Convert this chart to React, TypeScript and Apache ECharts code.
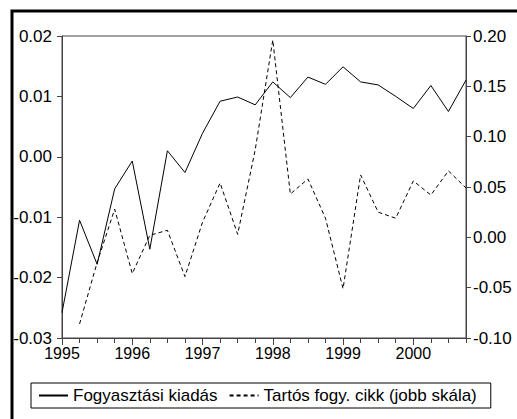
import React, { useEffect, useRef } from "react";
import * as echarts from "echarts";

const quarters: string[] = [
  "1995Q1", "1995Q2", "1995Q3", "1995Q4",
  "1996Q1", "1996Q2", "1996Q3", "1996Q4",
  "1997Q1", "1997Q2", "1997Q3", "1997Q4",
  "1998Q1", "1998Q2", "1998Q3", "1998Q4",
  "1999Q1", "1999Q2", "1999Q3", "1999Q4",
  "2000Q1", "2000Q2", "2000Q3", "2000Q4",
];

const fogyasztasiKiadas: number[] = [
  -0.0258, -0.0105, -0.0178, -0.0053,
  -0.0007, -0.0153, 0.0010, -0.0026,
  0.0039, 0.0092, 0.0099, 0.0086,
  0.0124, 0.0098, 0.0132, 0.0120,
  0.0149, 0.0124, 0.0119, 0.0100,
  0.0080, 0.0118, 0.0075, 0.0127,
];

const tartosCikk: (number | null)[] = [
  null, -0.086, -0.025, 0.028,
  -0.036, 0.002, 0.007, -0.039,
  0.015, 0.054, 0.003, 0.087,
  0.196, 0.043, 0.058, 0.019,
  -0.051, 0.062, 0.025, 0.019,
  0.056, 0.042, 0.066, 0.049,
];

const seriesNames = ["Fogyasztási kiadás", "Tartós fogy. cikk (jobb skála)"];
const leftAxis = { min: -0.03, max: 0.02, interval: 0.01 };
const rightAxis = { min: -0.1, max: 0.2, interval: 0.05 };

const FONT = "'Liberation Sans', Arial, sans-serif";
const AXIS_COLOR = "#444";

export default function App() {
  const ref = useRef<HTMLDivElement>(null);

  useEffect(() => {
    if (!ref.current) return;
    const chart = echarts.init(ref.current, undefined, { renderer: "svg" });
    chart.setOption({
      animation: false,
      backgroundColor: "#fff",
      graphic: [
        {
          type: "rect",
          shape: { x: 12, y: 11, width: 620, height: 520 },
          style: { fill: "none", stroke: "#000", lineWidth: 3 },
          silent: true,
        },
      ],
      grid: {
        left: 62,
        top: 36,
        width: 404,
        height: 302,
        show: true,
        borderColor: AXIS_COLOR,
        borderWidth: 1,
        backgroundColor: "transparent",
      },
      legend: {
        left: 31,
        top: 383,
        orient: "horizontal",
        padding: [4, 14, 4, 7],
        borderColor: "#000",
        borderWidth: 1,
        itemWidth: 29,
        itemHeight: 14,
        itemGap: 11,
        data: seriesNames,
        itemStyle: { opacity: 0 },
        textStyle: { fontSize: 17, fontFamily: FONT, color: "#000" },
      },
      xAxis: [
        {
          type: "category",
          data: quarters,
          boundaryGap: false,
          axisLine: { show: true, onZero: false, lineStyle: { color: AXIS_COLOR, width: 1 } },
          axisTick: { show: true, interval: 0, length: 5, lineStyle: { color: AXIS_COLOR } },
          axisLabel: {
            interval: 3,
            margin: 7,
            fontSize: 16,
            fontFamily: FONT,
            color: "#000",
            formatter: (v: string) => v.slice(0, 4),
          },
          splitLine: { show: false },
        },
        {
          type: "category",
          data: quarters,
          boundaryGap: false,
          position: "bottom",
          axisLine: { show: false, onZero: false },
          axisTick: { show: true, interval: 3, length: 7, lineStyle: { color: AXIS_COLOR } },
          axisLabel: { show: false },
          splitLine: { show: false },
        },
      ],
      yAxis: [
        {
          type: "value",
          position: "left",
          min: leftAxis.min,
          max: leftAxis.max,
          interval: leftAxis.interval,
          axisLine: { show: true, lineStyle: { color: AXIS_COLOR } },
          axisTick: { show: true, length: 5, lineStyle: { color: AXIS_COLOR } },
          axisLabel: {
            margin: 10,
            fontSize: 17,
            fontFamily: FONT,
            color: "#000",
            formatter: (v: number) => v.toFixed(2),
          },
          splitLine: { show: false },
        },
        {
          type: "value",
          position: "right",
          min: rightAxis.min,
          max: rightAxis.max,
          interval: rightAxis.interval,
          axisLine: { show: true, lineStyle: { color: AXIS_COLOR } },
          axisTick: { show: true, length: 5, lineStyle: { color: AXIS_COLOR } },
          axisLabel: {
            margin: 7,
            fontSize: 17,
            fontFamily: FONT,
            color: "#000",
            formatter: (v: number) => v.toFixed(2),
          },
          splitLine: { show: false },
        },
      ],
      series: [
        {
          name: seriesNames[0],
          type: "line",
          xAxisIndex: 0,
          yAxisIndex: 0,
          data: fogyasztasiKiadas,
          symbol: "none",
          lineStyle: { color: "#000", width: 1, type: "solid" },
          itemStyle: { color: "#000" },
        },
        {
          name: seriesNames[1],
          type: "line",
          xAxisIndex: 0,
          yAxisIndex: 1,
          data: tartosCikk,
          symbol: "none",
          lineStyle: { color: "#000", width: 1, type: [4, 3] },
          itemStyle: { color: "#000" },
        },
      ],
    });
    return () => chart.dispose();
  }, []);

  return (
    <div
      ref={ref}
      style={{ position: "absolute", left: 0, top: 0, width: 517, height: 419 }}
    />
  );
}
